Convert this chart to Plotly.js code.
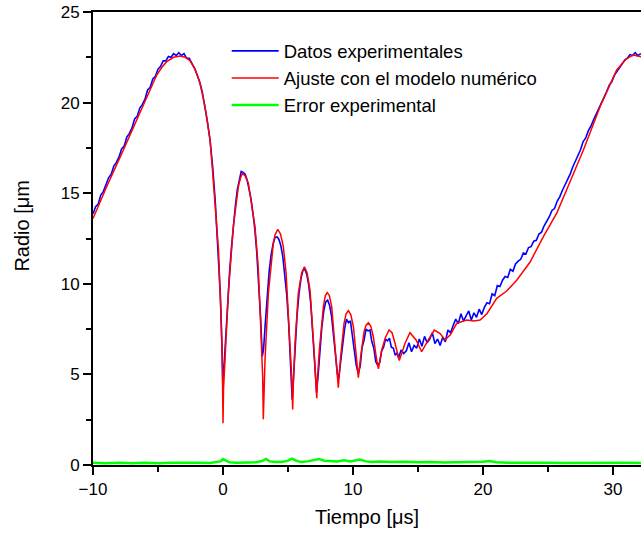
<!DOCTYPE html>
<html>
<head>
<meta charset="utf-8">
<script src="https://cdn.plot.ly/plotly-3.0.1.min.js"></script>
<style>html,body{margin:0;padding:0;background:#fff;}#chart{width:641px;height:535px;}</style>
</head>
<body>
<div id="chart"></div>
<script>
// Experimental radius data (blue)
const expX = [-10.0,-9.8,-9.6,-9.4,-9.2,-9.0,-8.8,-8.6,-8.4,-8.2,-8.0,-7.8,-7.6,-7.4,-7.2,-7.0,-6.8,-6.6,-6.4,-6.2,-6.0,-5.8,-5.6,-5.4,-5.2,-5.0,-4.8,-4.6,-4.4,-4.2,-4.0,-3.8,-3.6,-3.4,-3.2,-3.0,-2.8,-2.6,-2.4,-2.2,-2.0,-1.8,-1.6,-1.4,-1.2,-1.0,
 -0.8,-0.6,-0.4,-0.2,-0.08,-0.02,0.06,0.2,0.35,0.5,0.65,0.8,0.95,1.1,1.25,1.4,1.55,1.7,1.85,2.0,2.15,2.3,2.45,2.6,2.75,2.9,3.02,3.12,3.25,3.4,3.55,3.7,3.85,4.0,4.15,4.3,4.45,4.6,4.75,4.9,5.05,5.2,5.32,5.42,5.55,5.7,5.85,6.0,6.15,6.3,6.45,6.6,6.75,6.9,7.05,7.2,7.32,7.45,7.6,7.75,7.9,8.05,8.2,8.35,8.5,8.65,8.8,8.9,9.05,9.2,9.35,9.5,9.65,9.8,9.95,10.1,10.25,10.4,10.55,10.7,10.85,11.0,11.15,11.3,11.45,11.6,11.75,11.9,12.05,12.2,12.35,12.5,12.65,12.8,12.95,13.1,13.25,13.4,
 13.5,13.7,13.9,14.1,14.3,14.5,14.7,14.9,15.1,15.3,15.5,15.7,15.9,16.1,16.3,16.5,16.7,16.9,17.1,17.3,17.5,17.7,17.9,18.1,18.3,18.5,18.7,18.9,19.1,19.3,19.5,19.7,19.9,20.1,20.3,20.5,20.7,20.9,21.1,21.3,21.5,21.7,21.9,22.1,22.3,22.5,22.7,22.9,23.1,23.3,23.5,23.7,23.9,24.1,24.3,24.5,24.7,24.9,25.1,25.3,25.5,25.7,25.9,26.1,26.3,26.5,26.7,26.9,27.1,27.3,27.5,27.7,27.9,28.1,28.3,28.5,28.7,28.9,29.1,29.3,29.5,29.7,29.9,30.1,30.3,30.5,30.7,30.9,31.1,31.3,31.5,31.7,31.9,32.15];
const expR = [13.85,14.25,14.4,14.9,15.1,15.45,15.85,16.05,16.5,16.7,17.0,17.45,17.6,18.1,18.3,18.6,19.1,19.25,19.7,19.9,20.2,20.7,20.85,21.3,21.45,21.85,22.0,22.3,22.3,22.55,22.5,22.7,22.6,22.75,22.6,22.7,22.45,22.45,22.2,21.9,21.55,21.15,20.6,19.85,18.95,17.95,
 16.5,14.6,12.2,9.3,6.6,4.5,5.2,7.0,8.9,10.6,12.0,13.3,14.3,15.2,15.75,16.2,16.15,16.05,15.75,15.3,14.7,13.9,13.0,11.7,10.0,8.0,6.0,6.4,7.8,9.5,10.7,11.6,12.2,12.55,12.6,12.45,12.1,11.5,10.6,9.4,7.8,5.6,3.6,4.8,6.6,8.3,9.5,10.3,10.75,10.8,10.5,9.9,8.9,7.4,5.6,4.0,5.0,6.4,7.6,8.5,9.0,9.1,8.8,8.2,7.3,6.1,5.0,4.8,5.7,6.8,7.5,8.05,7.85,7.95,7.15,6.6,5.5,5.05,5.45,6.5,6.9,7.5,7.4,7.45,6.8,6.45,5.7,5.5,5.65,6.3,6.5,6.95,6.85,7.0,6.5,6.45,6.05,6.2,
 5.9,6.35,6.15,6.3,6.75,6.25,6.6,6.45,6.95,6.55,7.1,6.75,6.95,7.3,6.7,6.95,6.6,7.05,6.8,7.45,7.3,7.7,8.05,7.8,8.35,7.95,8.2,8.5,8.0,8.4,8.15,8.6,8.3,8.7,8.95,8.9,9.45,9.35,9.9,9.85,10.2,10.4,10.35,10.8,10.7,11.1,11.25,11.35,11.7,11.65,12.0,12.05,12.35,12.4,12.75,12.85,13.2,13.45,13.7,14.05,14.15,14.55,14.8,15.15,15.45,15.75,16.05,16.45,16.75,17.1,17.4,17.85,18.05,18.45,18.7,19.05,19.35,19.65,20.0,20.3,20.6,20.95,21.15,21.5,21.7,21.95,22.1,22.35,22.45,22.65,22.6,22.75,22.6,22.7];

// Numerical model fit (red)
const fitX = [-10,-8.95,-7.67,-6.38,-5.1,-4.7,-4.33,-3.8,-3.31,-2.9,-2.54,-2.15,-1.77,-1.38,-1.0,-0.87,-0.6,-0.35,-0.15,-0.05,0.0,0.04,0.15,0.41,0.79,1.18,1.35,1.51,1.7,1.95,2.46,2.7,2.85,3.05,3.1,3.14,3.23,3.49,3.87,4.0,4.21,4.42,4.64,4.85,5.02,5.28,5.36,5.4,5.54,5.79,6.05,6.26,6.47,6.69,7.0,7.21,7.25,7.41,7.72,7.87,8.02,8.18,8.36,8.69,8.87,9.05,9.31,9.47,9.64,9.83,10.03,10.28,10.41,10.59,10.85,11.0,11.18,11.37,11.56,11.82,11.95,12.21,12.5,12.77,13.0,13.23,13.56,14.0,14.38,14.85,15.28,15.79,16.25,16.7,17.08,17.5,17.97,18.75,19.3,19.77,20.3,21.05,21.82,22.59,23.62,24.64,25.67,26.44,27.72,29.0,30.28,31.0,31.56,32.15];
const fitR = [13.6,15.36,17.38,19.5,21.52,21.95,22.26,22.5,22.57,22.5,22.31,21.85,21.07,19.77,17.94,16.83,14.4,11.9,8.1,5.6,2.3,4.2,5.79,9.48,13.15,15.36,15.85,16.1,15.95,15.55,13.15,11.0,8.55,4.87,2.52,4.0,5.79,9.48,12.24,12.7,13.0,12.75,12.05,10.6,8.55,4.87,3.07,4.3,6.72,9.48,10.6,10.94,10.6,9.66,6.35,3.68,4.6,6.35,8.74,9.35,9.51,9.35,8.74,5.98,4.27,5.98,7.82,8.35,8.52,8.3,7.63,5.79,4.82,5.98,7.36,7.7,7.85,7.65,7.08,5.79,5.3,6.35,7.05,7.45,7.3,6.72,5.76,6.72,7.3,6.9,6.25,6.9,7.45,7.25,6.9,7.2,7.82,8.0,7.95,8.0,8.35,9.2,9.6,10.2,11.2,12.6,13.9,15.2,17.38,19.77,21.8,22.4,22.63,22.53];

// Experimental error (green)
const errX = [-10,-9,-8,-7,-6,-5,-4,-3,-2,-1,-0.5,-0.2,0,0.2,0.5,1,1.5,2,2.5,3,3.3,3.6,4,4.5,5,5.3,5.6,6,6.5,7,7.4,7.8,8.3,8.8,9.3,9.8,10.5,11,11.5,12,13,14,15,16,17,18,19,20,20.5,21,22,23,24,25,26,27,28,29,30,31,32.15];
const errR = [0.12,0.1,0.13,0.1,0.12,0.09,0.12,0.1,0.12,0.11,0.15,0.2,0.33,0.25,0.15,0.13,0.12,0.14,0.15,0.22,0.34,0.2,0.16,0.17,0.24,0.35,0.25,0.16,0.2,0.25,0.33,0.24,0.22,0.2,0.26,0.2,0.3,0.2,0.17,0.2,0.16,0.18,0.15,0.17,0.14,0.16,0.14,0.18,0.22,0.15,0.13,0.14,0.12,0.13,0.11,0.12,0.1,0.12,0.11,0.12,0.11];

const seriesNames = ['Datos experimentales', 'Ajuste con el modelo numérico', 'Error experimental'];
const yTitle = 'Radio [μm';
const xTitle = 'Tiempo [μs]';

const traces = [
  {x: expX, y: expR, name: seriesNames[0], type: 'scatter', mode: 'lines', line: {color: '#0000ff', width: 1.6}},
  {x: fitX, y: fitR, name: seriesNames[1], type: 'scatter', mode: 'lines', line: {color: '#ff0000', width: 1.5}},
  {x: errX, y: errR, name: seriesNames[2], type: 'scatter', mode: 'lines', line: {color: '#00ff00', width: 2.5}}
];

const layout = {
  width: 641, height: 535,
  margin: {l: 93, r: 0, t: 12, b: 70, pad: 0},
  paper_bgcolor: '#ffffff', plot_bgcolor: '#ffffff',
  font: {family: '"Liberation Sans", Arial, sans-serif', color: '#000000'},
  showlegend: true,
  legend: {x: 0.244, y: 0.955, xanchor: 'left', yanchor: 'top', bgcolor: 'rgba(0,0,0,0)', borderwidth: 0, font: {size: 18.5}, itemwidth: 47, tracegroupgap: 0},
  xaxis: {
    range: [-10, 32.15], tickmode: 'linear', tick0: -10, dtick: 10,
    ticks: 'outside', ticklen: 8, tickwidth: 2, tickcolor: '#000',
    showline: true, linewidth: 2, linecolor: '#000', mirror: true,
    showgrid: false, zeroline: false, tickfont: {size: 17},
    minor: {tick0: -5, dtick: 5, ticks: 'outside', ticklen: 5, tickwidth: 2, tickcolor: '#000', showgrid: false},
    title: {text: xTitle, font: {size: 20}, standoff: 12}
  },
  yaxis: {
    range: [0, 25], tickmode: 'linear', tick0: 0, dtick: 5,
    ticks: 'outside', ticklen: 8, tickwidth: 2, tickcolor: '#000',
    showline: true, linewidth: 2, linecolor: '#000', mirror: false,
    showgrid: false, zeroline: false, tickfont: {size: 17},
    minor: {tick0: 0, dtick: 2.5, ticks: 'outside', ticklen: 5, tickwidth: 2, tickcolor: '#000', showgrid: false}
  },
  annotations: [{
    text: yTitle, xref: 'paper', yref: 'paper', x: -0.13, y: 0.528,
    xanchor: 'center', yanchor: 'middle', textangle: -90, showarrow: false,
    font: {size: 20}
  }]
};

Plotly.newPlot('chart', traces, layout, {displayModeBar: false, staticPlot: true});
</script>
</body>
</html>
